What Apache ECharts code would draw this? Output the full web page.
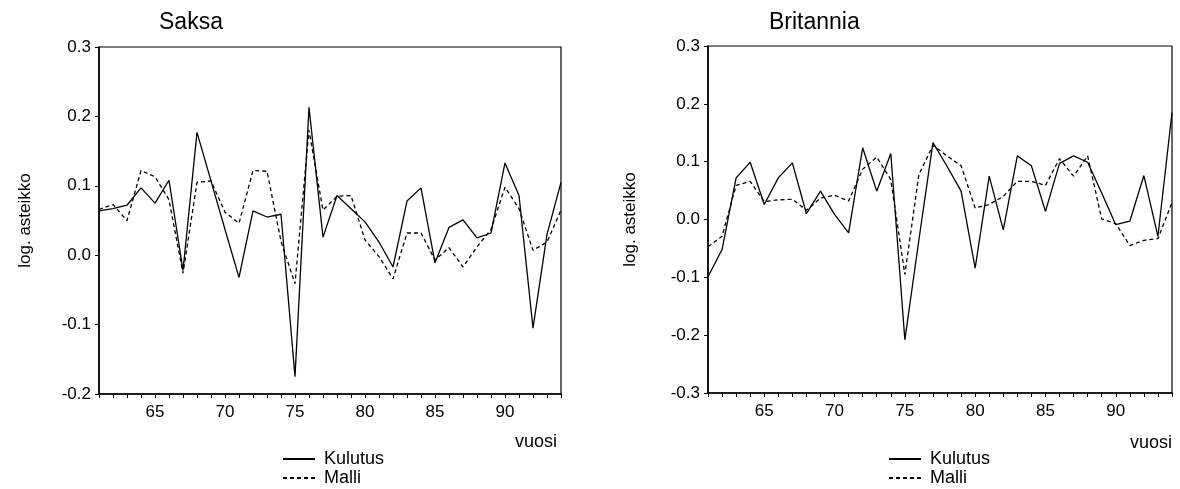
<!DOCTYPE html>
<html>
<head>
<meta charset="utf-8">
<script src="https://cdn.jsdelivr.net/npm/echarts@6/dist/echarts.min.js"></script>
<style>
html,body{margin:0;padding:0;background:#fff;}
#c{width:1180px;height:489px;}
</style>
</head>
<body>
<div id="c"></div>
<script>
// Years 1961..1994
const years = [61,62,63,64,65,66,67,68,69,70,71,72,73,74,75,76,77,78,79,80,81,82,83,84,85,86,87,88,89,90,91,92,93,94];

// Saksa (Germany)
const saksaKulutus = [0.064,0.067,0.072,0.097,0.075,0.108,-0.022,0.177,0.107,0.037,-0.032,0.064,0.055,0.059,-0.175,0.213,0.026,0.086,0.067,0.048,0.019,-0.017,0.078,0.097,-0.011,0.040,0.051,0.025,0.032,0.133,0.086,-0.105,0.030,0.105];
const saksaMalli   = [0.066,0.073,0.050,0.122,0.113,0.080,-0.026,0.105,0.107,0.062,0.046,0.122,0.121,0.020,-0.041,0.180,0.065,0.085,0.086,0.022,-0.002,-0.034,0.032,0.032,-0.007,0.011,-0.017,0.012,0.037,0.098,0.067,0.007,0.019,0.065];

// Britannia (UK)
const britKulutus = [-0.099,-0.052,0.072,0.099,0.026,0.072,0.098,0.010,0.049,0.009,-0.023,0.124,0.049,0.114,-0.208,-0.035,0.133,0.092,0.049,-0.084,0.075,-0.018,0.110,0.093,0.014,0.097,0.110,0.099,0.046,-0.009,-0.003,0.076,-0.029,0.185];
const britMalli   = [-0.047,-0.029,0.059,0.066,0.031,0.034,0.035,0.016,0.037,0.042,0.032,0.087,0.108,0.069,-0.095,0.078,0.128,0.110,0.093,0.020,0.026,0.040,0.066,0.066,0.059,0.105,0.075,0.110,0.001,-0.007,-0.045,-0.036,-0.033,0.029];

const saksaTicks = [-0.2,-0.1,0.0,0.1,0.2,0.3];
const britTicks  = [-0.3,-0.2,-0.1,0.0,0.1,0.2,0.3];

const pair = (vals) => years.map((y, i) => [y, vals[i]]);

const FONT = '"Liberation Sans", Arial, Helvetica, sans-serif';
const chart = echarts.init(document.getElementById('c'), null, {renderer: 'canvas'});

function xAxisCfg(gi) {
  return {
    gridIndex: gi, type: 'value', min: 61, max: 94, interval: 1,
    axisLine: {show: true, onZero: false, lineStyle: {color: '#000', width: 1.5}},
    axisTick: {show: true, length: 4, inside: false, lineStyle: {color: '#000', width: 1}},
    axisLabel: {
      margin: 10, color: '#000', fontFamily: FONT, fontSize: 17,
      formatter: v => (v % 5 === 0 ? String(v) : '')
    },
    splitLine: {show: false}
  };
}
function yAxisCfg(gi, ticks, gap) {
  return {
    gridIndex: gi, type: 'value', min: ticks[0], max: ticks[ticks.length - 1], interval: 0.1,
    name: 'log. asteikko', nameLocation: 'middle', nameGap: gap, nameRotate: 90,
    nameTextStyle: {color: '#000', fontFamily: FONT, fontSize: 17},
    axisLine: {show: true, onZero: false, lineStyle: {color: '#000', width: 1.5}},
    axisTick: {show: true, length: 4, inside: false, lineStyle: {color: '#000', width: 1}},
    axisLabel: {
      margin: 8, color: '#000', fontFamily: FONT, fontSize: 17,
      formatter: v => v.toFixed(1)
    },
    splitLine: {show: false}
  };
}
function lineSeries(name, gi, vals, dashed) {
  return {
    name: name, type: 'line', xAxisIndex: gi, yAxisIndex: gi,
    data: pair(vals), symbol: 'none', smooth: false, animation: false,
    lineStyle: {color: '#000', width: 1.3, type: dashed ? [4, 3] : 'solid'},
    itemStyle: {color: '#000'}
  };
}
function legendCfg(names, left) {
  return {
    data: names, orient: 'vertical', left: left, top: 450,
    itemWidth: 32, itemHeight: 10, itemGap: 1, padding: 0,
    itemStyle: {opacity: 0},
    textStyle: {fontFamily: FONT, fontSize: 18, color: '#000', padding: [0, 0, 0, 4]},
    selectedMode: false
  };
}

chart.setOption({
  backgroundColor: '#fff',
  animation: false,
  title: [
    {text: 'Saksa', left: 154, top: 6, textStyle: {fontFamily: FONT, fontSize: 23, fontWeight: 'normal', color: '#000'}},
    {text: 'Britannia', left: 764, top: 6, textStyle: {fontFamily: FONT, fontSize: 23, fontWeight: 'normal', color: '#000'}}
  ],
  grid: [
    {left: 99, right: 619, top: 47, bottom: 95, show: true, borderColor: '#000', borderWidth: 1.2, containLabel: false},
    {left: 708, right: 8, top: 46, bottom: 96, show: true, borderColor: '#000', borderWidth: 1.2, containLabel: false}
  ],
  xAxis: [xAxisCfg(0), xAxisCfg(1)],
  yAxis: [yAxisCfg(0, saksaTicks, 65), yAxisCfg(1, britTicks, 69)],
  legend: [legendCfg(['Kulutus', 'Malli'], 282), legendCfg(['Kulutus ', 'Malli '], 888)],
  graphic: [
    {type: 'text', right: 1180 - 557, top: 433, style: {text: 'vuosi', fontFamily: FONT, fontSize: 18, fill: '#000'}},
    {type: 'text', right: 8, top: 434, style: {text: 'vuosi', fontFamily: FONT, fontSize: 18, fill: '#000'}}
  ],
  series: [
    lineSeries('Kulutus', 0, saksaKulutus, false),
    lineSeries('Malli', 0, saksaMalli, true),
    lineSeries('Kulutus ', 1, britKulutus, false),
    lineSeries('Malli ', 1, britMalli, true)
  ]
});
</script>
</body>
</html>
